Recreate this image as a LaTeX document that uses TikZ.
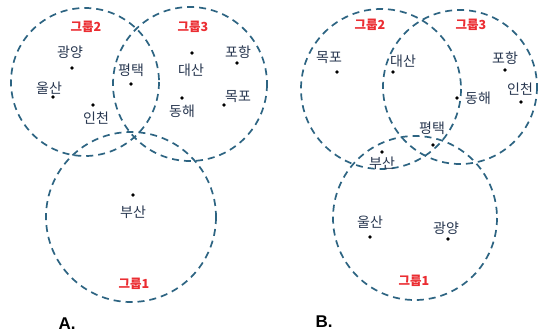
\documentclass[tikz,border=0pt]{standalone}
\usepackage{fontspec}
\setmainfont{Liberation Sans}
\newfontfamily\hangul{Noto Sans CJK KR}
\usepackage{tikz}
\usetikzlibrary{positioning}
\definecolor{tealdash}{RGB}{45,100,130}
\definecolor{hangeul}{RGB}{40,55,80}
\definecolor{groupred}{RGB}{235,45,50}
\tikzset{
  rim/.style={tealdash,line width=1.7pt,dash pattern=on 7pt off 5pt},
  portlbl/.style={inner sep=0pt,text=hangeul,font=\hangul\fontsize{14}{14}\selectfont},
  grouplbl/.style={inner sep=0pt,text=groupred,font=\hangul\bfseries\fontsize{12.5}{12.5}\selectfont},
  panel/.style={inner sep=0pt,font=\bfseries\fontsize{17}{17}\selectfont}
}
% dot + name: id, dot x, dot y, label x, label y, text
\newcommand{\port}[6]{%
  \fill (#2,#3) circle (1.9);
  \node[portlbl] (#1) at (#4,#5) {#6};}

\begin{document}
\begin{tikzpicture}[x=1pt,y=-1pt]
  \useasboundingbox[fill=white] (0,0) rectangle (541,335);
  % A
  \draw[rim] (85,82) circle (74);
  \draw[rim] (190,84) circle (77);
  \draw[rim] (131,217) circle (85);
  \node[grouplbl] (a-g2) at (86,27) {그룹2};
  \node[grouplbl] (a-g3) at (193,27) {그룹3};
  \node[grouplbl] (a-g1) at (134,284) {그룹1};
  \port{a-gy}{72}{68}{70}{52}{광양}
  \port{a-us}{53}{97}{49}{88}{울산}
  \port{a-ic}{93}{105}{96}{118}{인천}
  \port{a-pt}{131}{84}{131}{70}{평택}
  \port{a-ds}{192}{53}{191}{70}{대산}
  \port{a-ph}{237}{63}{238}{52}{포항}
  \port{a-mp}{224}{105}{238}{97}{목포}
  \port{a-dh}{182}{98}{182}{111}{동해}
  \port{a-bs}{133}{195}{133}{212}{부산}
  \node[panel] (a-lbl) at (67,324) {A.};
  % B
  \draw[rim] (381,89) circle (80);
  \draw[rim] (460,87) circle (77);
  \draw[rim] (415,218) circle (82);
  \node[grouplbl] (b-g2) at (370,25) {그룹2};
  \node[grouplbl] (b-g3) at (471,25) {그룹3};
  \node[grouplbl] (b-g1) at (414,281) {그룹1};
  \port{b-mp}{337}{72}{329}{58}{목포}
  \port{b-ds}{393}{72}{403}{61}{대산}
  \port{b-ph}{505}{70}{505}{58}{포항}
  \port{b-ic}{521}{102}{520}{89}{인천}
  \port{b-dh}{457}{98}{478}{98}{동해}
  \port{b-pt}{433}{145}{432}{128}{평택}
  \port{b-bs}{382}{152}{382}{163}{부산}
  \port{b-us}{370}{237}{370}{222}{울산}
  \port{b-gy}{448}{239}{446}{228}{광양}
  \node[panel] (b-lbl) at (324,322) {B.};
\end{tikzpicture}
\end{document}
